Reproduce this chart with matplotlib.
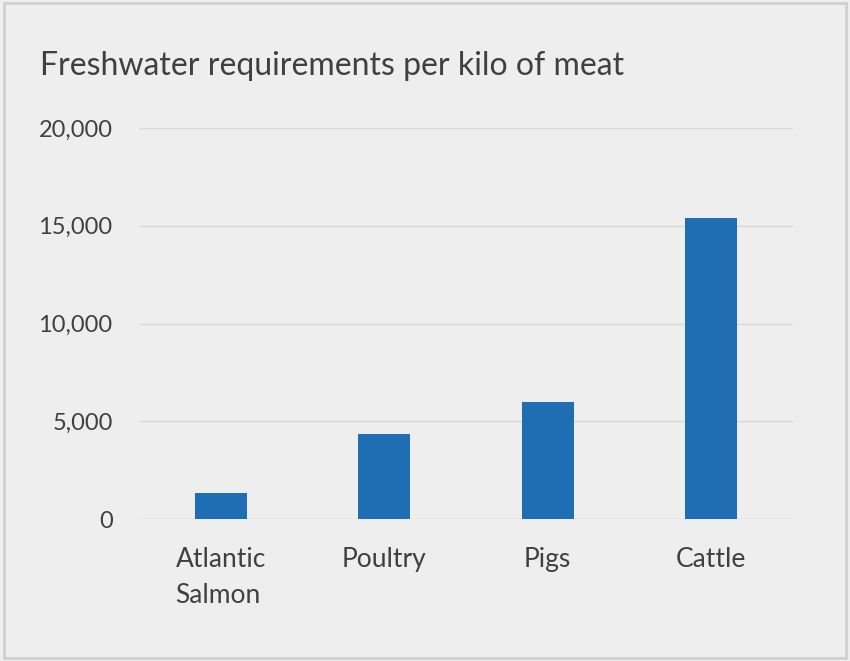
import matplotlib
matplotlib.use('Agg')
import matplotlib.pyplot as plt
from matplotlib.ticker import FuncFormatter

categories = ['Atlantic\nSalmon', 'Poultry', 'Pigs', 'Cattle']
water = [1350, 4325, 5988, 15415]
yticks = [0, 5000, 10000, 15000, 20000]

plt.rcParams['font.family'] = ['Lato', 'DejaVu Sans']
txt = '#404040'
bg = '#eeeeee'

fig = plt.figure(figsize=(8.5, 6.61), dpi=100, facecolor=bg)
ax = fig.add_axes([139 / 850, 1 - 519 / 661, (793 - 139) / 850, (519 - 128) / 661])
ax.set_facecolor(bg)

ax.bar(range(len(categories)), water, width=0.32, color='#1f6db3', zorder=3)
ax.set_xlim(-0.5, len(categories) - 0.5)
ax.set_ylim(0, 20000)
ax.set_yticks(yticks)
ax.yaxis.set_major_formatter(FuncFormatter(lambda v, p: f'{int(v):,}'))
ax.set_xticks(range(len(categories)))
ax.set_xticklabels(categories, fontsize=19, linespacing=1.55,
                   multialignment='left', va='top')

ax.grid(axis='y', color='#d9d9d9', linewidth=1, zorder=0)
for s in ax.spines.values():
    s.set_visible(False)
ax.tick_params(length=0, colors=txt)
ax.tick_params(axis='y', pad=19, labelsize=17)
ax.tick_params(axis='x', pad=20)

fig.text(40 / 850, 1 - 66 / 661, 'Freshwater requirements per kilo of meat',
         fontsize=23, color=txt, va='center', ha='left')

# thin border round the card
fig.patches.append(plt.Rectangle((0.005, 0.005), 0.99, 0.99, transform=fig.transFigure,
                                 fill=False, edgecolor='#d0d0d0', linewidth=2))

fig.savefig('out.png', dpi=100, facecolor=bg)
